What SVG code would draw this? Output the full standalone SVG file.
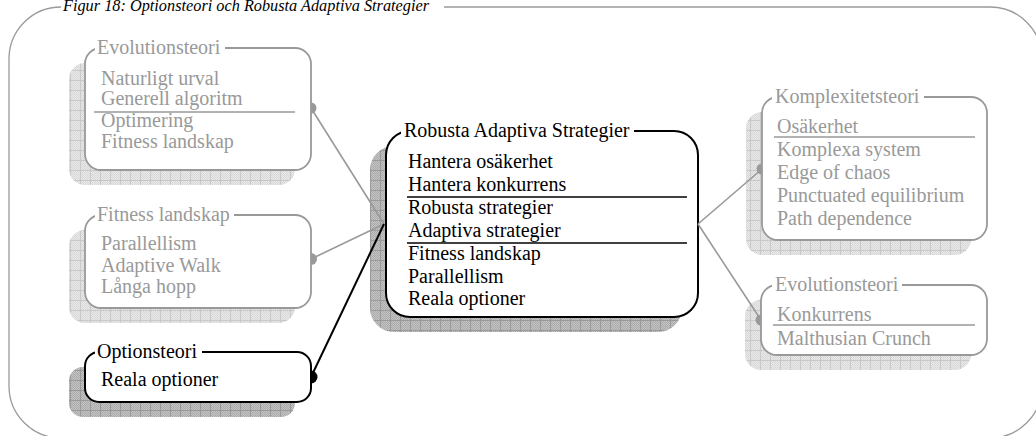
<svg xmlns="http://www.w3.org/2000/svg" width="1036" height="436" viewBox="0 0 1036 436">
  <defs>
    <!-- fine two-tone dither used under the shadow grids -->
    <pattern id="ditherLight" width="2" height="2" patternUnits="userSpaceOnUse">
      <rect width="2" height="2" fill="#e9e9e9"/>
      <rect width="1" height="1" fill="#d8d8d8"/>
      <rect x="1" y="1" width="1" height="1" fill="#d8d8d8"/>
    </pattern>
    <pattern id="ditherDark" width="2" height="2" patternUnits="userSpaceOnUse">
      <rect width="2" height="2" fill="#c4c4c4"/>
      <rect width="1" height="1" fill="#ababab"/>
      <rect x="1" y="1" width="1" height="1" fill="#ababab"/>
    </pattern>
    <!-- 10px grid laid over the dither -->
    <pattern id="gridLight" width="10" height="10" patternUnits="userSpaceOnUse">
      <rect width="10" height="10" fill="url(#ditherLight)"/>
      <path d="M0.5 0V10M0 0.5H10" stroke="#c9c9c9" stroke-width="1"/>
    </pattern>
    <pattern id="gridDark" width="10" height="10" patternUnits="userSpaceOnUse">
      <rect width="10" height="10" fill="url(#ditherDark)"/>
      <path d="M0.5 0V10M0 0.5H10" stroke="#9a9a9a" stroke-width="1"/>
    </pattern>
  </defs>
  <style>
    text { font-family: "Liberation Serif", "Times New Roman", serif; font-size: 20px; }
    .frame { fill: none; stroke: #9a9a9a; stroke-width: 1.3; }
    .caption { font-style: italic; font-size: 16.3px; fill: #000; }
    .gap { fill: #fff; }
    .muted .box { fill: #fff; stroke: #999; stroke-width: 1.8; }
    .muted text { fill: #999; }
    .muted .sep { stroke: #999; stroke-width: 1.3; }
    .muted .shadow { fill: url(#gridLight); }
    .strong .box { fill: #fff; stroke: #000; stroke-width: 2; }
    .strong text { fill: #000; }
    .strong .sep { stroke: #000; stroke-width: 1.3; }
    .strong .shadow { fill: url(#gridDark); }
    .link-muted { stroke: #999; stroke-width: 1.6; fill: none; }
    .link-strong { stroke: #000; stroke-width: 2; fill: none; }
    .dot-muted { fill: #999; }
    .dot-strong { fill: #000; }
  </style>

  <rect width="1036" height="436" fill="#fff"/>

  <!-- outer frame, open at the caption -->
  <g id="frame">
    <path class="frame" d="M444,7 H990 A52,52 0 0 1 1042,59 V386 A52,52 0 0 1 990,438 H61 A52,52 0 0 1 9,386 V59 A52,52 0 0 1 61,7"/>
    <text class="caption" x="63" y="11">Figur 18: Optionsteori och Robusta Adaptiva Strategier</text>
  </g>

  <g id="node-evolution-left" class="muted">
    <rect class="shadow" x="69" y="63" width="226" height="122" rx="16"/>
    <rect class="box" x="85" y="48" width="226" height="122" rx="16"/>
    <rect class="gap" x="95" y="43" width="130" height="9"/>
    <text x="97" y="54">Evolutionsteori</text>
    <text x="101" y="85">Naturligt urval</text>
    <text x="101" y="105">Generell algoritm</text>
    <line class="sep" x1="94" y1="112" x2="295" y2="112"/>
    <text x="101" y="127">Optimering</text>
    <text x="101" y="148">Fitness landskap</text>
  </g>

  <g id="node-fitness-left" class="muted">
    <rect class="shadow" x="69" y="230" width="226" height="93" rx="16"/>
    <rect class="box" x="85" y="215" width="226" height="93" rx="16"/>
    <rect class="gap" x="95" y="210" width="139" height="9"/>
    <text x="97" y="221">Fitness landskap</text>
    <text x="101" y="250">Parallellism</text>
    <text x="101" y="272">Adaptive Walk</text>
    <text x="101" y="293">Långa hopp</text>
  </g>

  <g id="node-options" class="strong">
    <rect class="shadow" x="69" y="367" width="226" height="50" rx="14"/>
    <rect class="box" x="85" y="352" width="226" height="50" rx="14"/>
    <rect class="gap" x="95" y="347" width="107" height="9"/>
    <text x="97" y="358">Optionsteori</text>
    <text x="101" y="386">Reala optioner</text>
  </g>

  <g id="node-robust" class="strong">
    <rect class="shadow" x="370" y="146" width="312" height="186" rx="24"/>
    <rect class="box" x="386" y="131" width="312" height="186" rx="24"/>
    <rect class="gap" x="401" y="126" width="233" height="9"/>
    <text x="404" y="137">Robusta Adaptiva Strategier</text>
    <text x="408" y="168">Hantera osäkerhet</text>
    <text x="408" y="191">Hantera konkurrens</text>
    <line class="sep" x1="407" y1="197" x2="687" y2="197"/>
    <text x="408" y="214">Robusta strategier</text>
    <text x="408" y="237">Adaptiva strategier</text>
    <line class="sep" x1="407" y1="243" x2="687" y2="243"/>
    <text x="408" y="260">Fitness landskap</text>
    <text x="408" y="283">Parallellism</text>
    <text x="408" y="305">Reala optioner</text>
  </g>

  <g id="node-complexity" class="muted">
    <rect class="shadow" x="746" y="112" width="225" height="143" rx="16"/>
    <rect class="box" x="762" y="97" width="225" height="143" rx="16"/>
    <rect class="gap" x="772" y="92" width="152" height="9"/>
    <text x="775" y="103">Komplexitetsteori</text>
    <text x="777" y="133">Osäkerhet</text>
    <line class="sep" x1="774" y1="137" x2="975" y2="137"/>
    <text x="777" y="156">Komplexa system</text>
    <text x="777" y="179">Edge of chaos</text>
    <text x="777" y="202">Punctuated equilibrium</text>
    <text x="777" y="225">Path dependence</text>
  </g>

  <g id="node-evolution-right" class="muted">
    <rect class="shadow" x="745" y="300" width="226" height="70" rx="16"/>
    <rect class="box" x="761" y="285" width="226" height="70" rx="16"/>
    <rect class="gap" x="772" y="280" width="130" height="9"/>
    <text x="775" y="291">Evolutionsteori</text>
    <text x="777" y="321">Konkurrens</text>
    <line class="sep" x1="773" y1="325" x2="975" y2="325"/>
    <text x="777" y="345">Malthusian Crunch</text>
  </g>

  <g id="connectors">
    <line class="link-muted" x1="311" y1="108" x2="384" y2="224"/>
    <line class="link-muted" x1="311" y1="259" x2="384" y2="224"/>
    <line class="link-strong" x1="311" y1="377" x2="384" y2="224"/>
    <line class="link-muted" x1="698" y1="224" x2="762" y2="169"/>
    <line class="link-muted" x1="698" y1="224" x2="761" y2="320"/>
    <path class="dot-muted" d="M311,102.5 A5.5,5.5 0 0 1 311,113.5 Z"/>
    <path class="dot-muted" d="M311,253 A6,6 0 0 1 311,265 Z"/>
    <path class="dot-strong" d="M311,370.5 A6.5,6.5 0 0 1 311,383.5 Z"/>
    <path class="dot-muted" d="M762,163.5 A5.5,5.5 0 0 0 762,174.5 Z"/>
    <path class="dot-muted" d="M761,314.5 A5.5,5.5 0 0 0 761,325.5 Z"/>
  </g>
</svg>
